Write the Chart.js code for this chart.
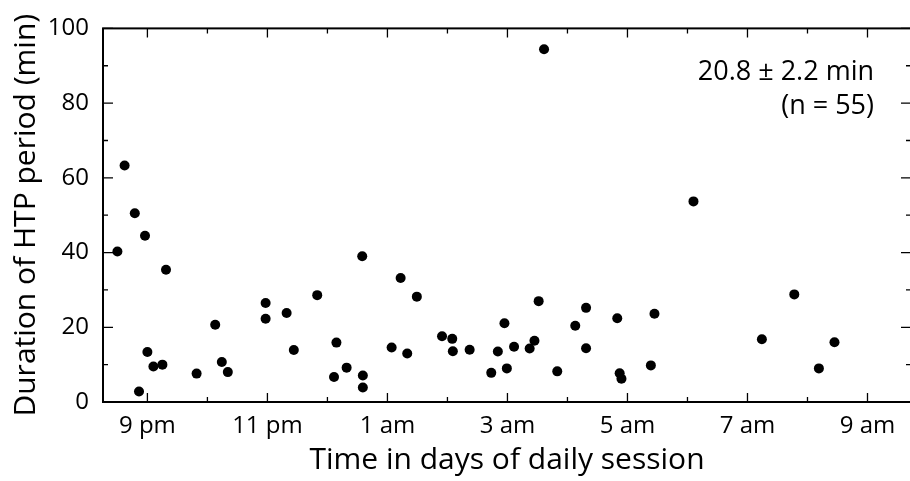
<!DOCTYPE html>
<html>
<head>
<meta charset="utf-8">
<script src="https://cdn.jsdelivr.net/npm/chart.js@4"></script>
<style>
  html, body { margin: 0; padding: 0; background: #fff; overflow: hidden; }
  canvas { display: block; }
</style>
</head>
<body>
<!-- the right edge of the box sits just outside the 910px window, as in the source figure -->
<canvas id="htpChart" width="916" height="481"></canvas>
<script>
// session time in clock hours (values above 24 are after midnight)
const sessionHours = [
  20.50, 20.62, 20.79, 20.86, 20.96, 21.00, 21.10, 21.25, 21.31, 21.82,
  22.13, 22.24, 22.34, 22.97, 22.97, 23.32, 23.44, 23.83,
  24.11, 24.15, 24.32, 24.58, 24.59, 24.59,
  25.07, 25.22, 25.33, 25.49, 25.91,
  26.08, 26.09, 26.37, 26.73, 26.84, 26.95, 26.99,
  27.11, 27.37, 27.45, 27.52, 27.61, 27.83,
  28.13, 28.31, 28.31, 28.83, 28.87, 28.90,
  29.39, 29.45, 30.10,
  31.24, 31.78, 32.19, 32.45
];
// duration of HTP period (min)
const durations = [
  40.3, 63.3, 50.5, 2.8, 44.5, 13.4, 9.5, 10.0, 35.4, 7.6,
  20.7, 10.7, 8.0, 26.5, 22.3, 23.8, 13.9, 28.6,
  6.7, 15.9, 9.2, 39.0, 7.1, 3.9,
  14.6, 33.2, 13.0, 28.2, 17.6,
  16.9, 13.6, 14.0, 7.8, 13.5, 21.1, 9.0,
  14.8, 14.3, 16.4, 27.0, 94.4, 8.2,
  20.4, 25.2, 14.4, 22.4, 7.7, 6.2,
  9.8, 23.6, 53.7,
  16.8, 28.8, 9.0, 16.0
];

const xTickHours = [21, 23, 25, 27, 29, 31, 33];
const xTickLabels = ['9 pm', '11 pm', '1 am', '3 am', '5 am', '7 am', '9 am'];
const xMinorHours = [22, 24, 26, 28, 30, 32];
const yTicks = [0, 20, 40, 60, 80, 100];
const yMinor = [10, 30, 50, 70, 90];
const statText = ['20.8 \u00b1 2.2 min', '(n = 55)'];

const fontFamily = "'Open Sans', sans-serif";
const ctx = document.getElementById('htpChart').getContext('2d');

const points = sessionHours.map((h, i) => ({ x: h, y: durations[i] }));

// box around the plot, ticks pointing inward on all four sides, and the stat text
const frameAndTicks = {
  id: 'frameAndTicks',
  afterDatasetsDraw(chart) {
    const { ctx, chartArea: a, scales } = chart;
    const xs = scales.x, ys = scales.y;
    ctx.save();
    ctx.strokeStyle = '#000';
    ctx.lineWidth = 1.3;
    ctx.beginPath();
    const vTick = (v, len) => {
      const px = xs.getPixelForValue(v);
      ctx.moveTo(px, a.bottom); ctx.lineTo(px, a.bottom - len);
      ctx.moveTo(px, a.top); ctx.lineTo(px, a.top + len);
    };
    const hTick = (v, len) => {
      const py = ys.getPixelForValue(v);
      ctx.moveTo(a.left, py); ctx.lineTo(a.left + len, py);
      ctx.moveTo(a.right, py); ctx.lineTo(a.right - len, py);
    };
    xTickHours.forEach(v => vTick(v, 9));
    xMinorHours.forEach(v => vTick(v, 5));
    yTicks.forEach(v => hTick(v, 10));
    yMinor.forEach(v => hTick(v, 5));
    ctx.stroke();

    ctx.lineWidth = 2;
    ctx.strokeRect(a.left, a.top, a.right - a.left, a.bottom - a.top);

    ctx.fillStyle = '#000';
    ctx.font = "27px " + fontFamily;
    ctx.textAlign = 'right';
    ctx.textBaseline = 'alphabetic';
    ctx.fillText(statText[0], a.right - 37, 80);
    ctx.fillText(statText[1], a.right - 37, 114);
    ctx.restore();
  }
};

new Chart(ctx, {
  type: 'scatter',
  data: {
    datasets: [{
      data: points,
      backgroundColor: '#000',
      borderWidth: 0,
      pointRadius: 5,
      pointHoverRadius: 5
    }]
  },
  options: {
    responsive: false,
    animation: false,
    devicePixelRatio: 1,
    layout: { padding: { top: 20, right: 1, left: 0, bottom: 0 } },
    plugins: {
      legend: { display: false },
      tooltip: { enabled: false }
    },
    scales: {
      x: {
        type: 'linear',
        min: 20.26,
        max: 33.725,
        grid: { display: false, drawTicks: false },
        border: { display: false },
        afterBuildTicks: s => { s.ticks = xTickHours.map(v => ({ value: v })); },
        afterFit: s => { s.height = 79; },
        ticks: {
          padding: 10,
          color: '#000',
          font: { family: fontFamily, size: 24 },
          maxRotation: 0,
          callback: v => xTickLabels[xTickHours.indexOf(v)]
        },
        title: {
          display: true,
          text: 'Time in days of daily session',
          color: '#000',
          font: { family: fontFamily, size: 30 },
          padding: { top: 0, bottom: 3 }
        }
      },
      y: {
        min: 0,
        max: 100,
        grid: { display: false, drawTicks: false },
        border: { display: false },
        afterBuildTicks: s => { s.ticks = yTicks.map(v => ({ value: v })); },
        afterFit: s => { s.width = 103; },
        ticks: {
          padding: 14,
          color: '#000',
          font: { family: fontFamily, size: 24 }
        },
        title: {
          display: true,
          text: 'Duration of HTP period (min)',
          color: '#000',
          font: { family: fontFamily, size: 30 },
          padding: { top: 8, bottom: 0 }
        }
      }
    }
  },
  plugins: [frameAndTicks]
});
</script>
</body>
</html>
